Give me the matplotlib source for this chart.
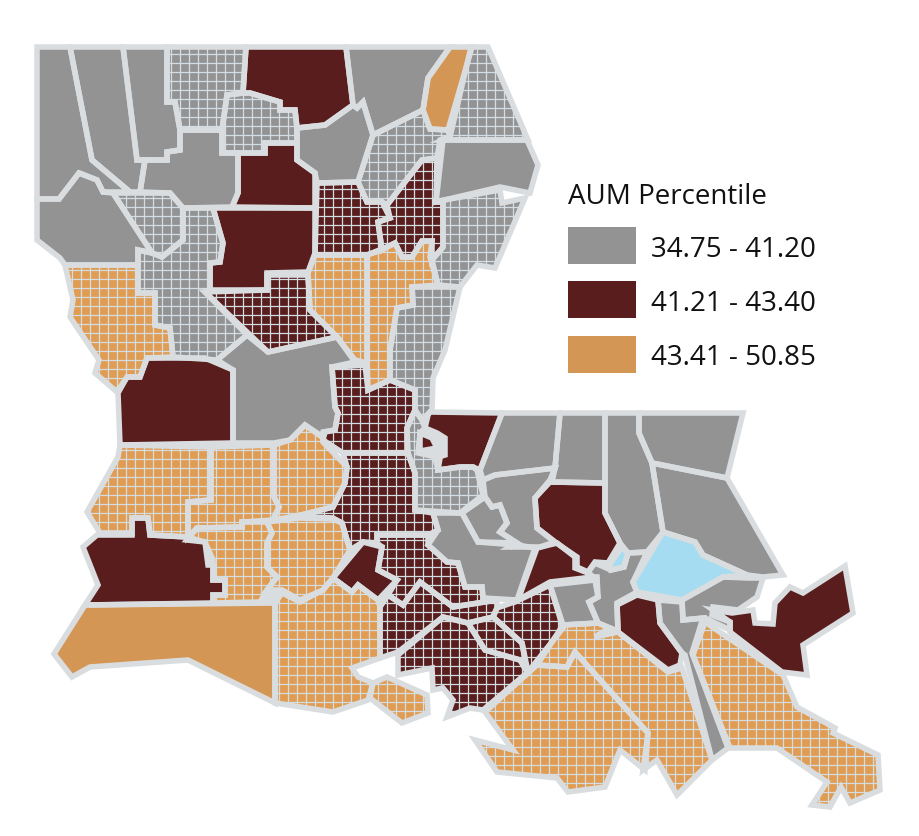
import numpy as np
import matplotlib
matplotlib.use('Agg')
import matplotlib.pyplot as plt
from matplotlib.patches import Polygon, Rectangle

# parish outlines (x, y in image pixels)
gray_plain = [
    [(37,47),(70,47),(92,160),(130,192),(103,192),(97,180),(79,173),(59,199),(37,199)],
    [(70,47),(123,47),(137,160),(145,160),(140,192),(130,192),(92,160)],
    [(123,47),(167,47),(167,102),(175,102),(180,130),(180,150),(167,152),(167,160),(137,160)],
    [(180,130),(222,130),(222,153),(238,153),(238,193),(232,207),(183,208),(170,193),(140,192),(145,160),(167,160),(167,152),(180,150)],
    [(37,199),(59,199),(79,173),(97,180),(103,192),(113,193),(152,253),(138,250),(138,265),(65,265),(60,258),(37,240)],
    [(247,335),(268,352),(337,337),(355,362),(332,367),(335,407),(338,413),(335,430),(323,432),(322,437),(305,425),(290,440),(274,443),(233,443),(233,370),(217,360)],
    [(346,47),(450,47),(428,78),(423,110),(373,135),(363,102),(357,108),(353,105)],
    [(297,128),(325,125),(353,105),(357,108),(363,102),(373,135),(358,182),(317,183),(315,173),(297,160)],
    [(443,140),(527,140),(538,165),(530,193),(500,187),(436,202)],
    [(502,413),(560,413),(555,468),(495,475),(483,480),(480,470)],
    [(560,413),(605,413),(605,483),(552,482),(555,468)],
    [(495,475),(555,468),(550,480),(535,498),(537,528),(555,542),(540,547),(510,547),(517,543),(500,532),(507,523),(500,505),(492,507),(485,497),(483,480)],
    [(485,497),(492,507),(500,505),(507,523),(500,532),(517,543),(478,542),(462,513)],
    [(433,513),(462,513),(478,542),(517,545),(535,548),(517,600),(483,598),(482,587),(465,587),(458,563),(447,562),(428,545),(438,530)],
    [(605,413),(639,413),(639,433),(652,463),(663,532),(647,552),(628,553),(620,543),(605,513)],
    [(639,413),(743,413),(727,478),(652,463),(639,433)],
    [(652,463),(727,478),(783,575),(763,577),(747,575),(703,555),(695,542),(663,532)],
    [(595,563),(611,570),(624,567),(628,553),(647,552),(633,582),(637,592),(617,603),(618,630),(595,637),(610,628),(598,623),(589,602),(598,597),(597,577),(593,577),(588,572)],
    [(550,585),(595,580),(598,597),(589,602),(598,623),(563,625)],
    [(658,600),(682,602),(683,620),(703,618),(692,653),(728,748),(712,760),(685,655),(682,653),(660,623)],
    [(682,600),(723,577),(748,578),(763,578),(757,597),(738,610),(713,607),(712,615),(730,622),(730,630),(705,618),(683,620)],
]
gray_hatched = [
    [(167,47),(246,47),(243,93),(227,95),(222,130),(180,130),(175,102),(167,102)],
    [(227,95),(243,93),(250,93),(280,102),(280,110),(295,110),(297,128),(297,143),(265,143),(265,153),(222,153),(222,130)],
    [(113,193),(170,193),(183,208),(183,240),(162,257),(152,253)],
    [(183,240),(162,257),(152,253),(138,250),(138,293),(155,293),(155,325),(170,328),(173,357),(217,360),(247,335),(205,292),(210,290),(210,263),(220,262),(223,243),(213,208),(183,208)],
    [(412,287),(460,287),(445,350),(433,378),(432,410),(422,420),(415,410),(415,390),(390,380),(390,350),(397,308),(413,305)],
    [(433,202),(443,202),(443,247),(432,260),(438,285),(460,287),(477,265),(495,268),(525,198),(502,203),(500,190)],
    [(471,47),(488,47),(528,140),(443,140),(450,137)],
    [(373,135),(423,110),(430,129),(448,130),(450,137),(440,140),(437,158),(422,160),(387,205),(382,202),(367,202),(358,182)],
    [(407,428),(415,410),(422,420),(425,428),(420,433),(418,453),(440,458),(438,470),(460,467),(473,467),(477,470),(483,495),(460,513),(415,510),(415,473),(407,450)],
]
maroon_plain = [
    [(246,47),(346,47),(353,105),(325,125),(297,128),(295,110),(280,110),(280,102),(250,93),(243,93)],
    [(238,153),(265,153),(265,143),(297,143),(297,160),(315,173),(315,208),(232,207),(238,193)],
    [(213,208),(315,208),(315,253),(308,272),(267,273),(267,290),(210,290),(210,263),(220,262),(223,243)],
    [(147,358),(205,358),(233,370),(233,443),(120,445),(118,393),(127,377),(140,377)],
    [(428,415),(430,412),(502,413),(480,470),(473,467),(460,467),(438,470),(435,458),(445,455),(445,438),(437,433),(425,428)],
    [(420,433),(432,438),(437,448),(420,451)],
    [(537,548),(557,543),(575,557),(575,568),(588,573),(593,577),(550,582),(518,600)],
    [(550,482),(605,483),(605,513),(620,543),(608,563),(595,562),(588,572),(577,567),(577,557),(555,542),(537,528),(535,498)],
    [(617,605),(637,595),(658,600),(660,623),(682,653),(680,665),(668,670),(618,632)],
    [(713,610),(732,613),(753,610),(755,623),(773,624),(775,603),(790,587),(803,593),(845,566),(853,613),(803,645),(807,675),(782,672),(730,632),(730,622)],
    [(333,578),(363,542),(382,547),(378,570),(397,580),(378,600),(358,585),(352,592)],
    [(83,547),(97,535),(132,535),(132,518),(148,518),(150,535),(187,537),(205,542),(208,565),(213,565),(213,580),(225,580),(225,595),(213,595),(213,603),(85,605),(98,585)],
]
maroon_hatched = [
    [(205,292),(267,290),(267,275),(308,275),(310,310),(337,337),(268,352)],
    [(335,367),(365,365),(368,390),(390,380),(415,390),(415,410),(407,428),(408,453),(343,453),(323,440),(325,432),(335,430),(338,413),(335,407),(332,367)],
    [(343,453),(408,453),(415,473),(415,510),(433,513),(438,530),(428,535),(377,535),(377,543),(363,542),(350,550),(342,523),(333,518),(297,516),(333,507),(345,483),(347,467)],
    [(317,183),(358,182),(367,202),(382,202),(390,218),(378,222),(382,250),(367,255),(315,255)],
    [(422,160),(437,158),(436,202),(443,202),(443,247),(432,260),(432,241),(422,241),(412,257),(402,257),(395,243),(387,247),(382,250),(378,222),(390,218),(387,205)],
    [(468,623),(493,617),(522,643),(527,672),(520,660),(485,650)],
    [(497,608),(517,601),(550,585),(563,628),(528,672),(522,643),(493,617)],
    [(443,617),(468,623),(485,650),(520,660),(528,672),(483,710),(470,708),(447,717),(453,700),(443,688),(433,690),(432,668),(398,675),(398,655)],
    [(380,607),(388,595),(403,605),(420,582),(453,607),(497,600),(497,608),(493,617),(468,623),(443,617),(398,652),(380,658)],
    [(377,535),(428,535),(428,545),(447,562),(458,563),(465,587),(482,587),(483,598),(497,600),(453,607),(420,582),(403,605),(388,595),(397,580),(378,570),(382,547),(377,543)],
]
tan_plain = [
    [(450,47),(472,47),(448,130),(430,129),(423,110),(428,78)],
    [(85,605),(275,603),(275,703),(188,660),(90,667),(72,677),(54,654)],
]
tan_hatched = [
    [(65,265),(138,265),(138,293),(155,293),(155,325),(170,328),(173,357),(147,358),(140,377),(127,377),(117,392),(95,373),(99,360),(70,317),(73,300)],
    [(120,445),(211,447),(211,500),(188,502),(188,537),(150,535),(148,518),(132,518),(132,533),(100,533),(87,512),(118,457)],
    [(211,447),(274,445),(274,497),(279,507),(273,520),(242,522),(242,527),(197,528),(188,537),(188,502),(211,500)],
    [(274,445),(290,440),(305,425),(323,437),(323,442),(347,467),(345,483),(333,507),(297,516),(273,520),(279,507),(274,497)],
    [(315,255),(367,255),(367,363),(355,360),(337,337),(310,310),(308,273)],
    [(367,255),(387,247),(395,243),(402,257),(412,257),(422,241),(432,241),(430,257),(438,285),(412,287),(413,305),(397,308),(390,350),(390,380),(368,390),(367,363)],
    [(705,622),(783,675),(797,707),(835,728),(833,733),(878,755),(880,790),(850,803),(841,787),(830,807),(812,805),(827,782),(777,748),(730,748),(693,655)],
    [(563,625),(598,623),(610,628),(595,637),(618,632),(668,672),(682,668),(712,760),(677,795),(657,760),(643,770),(648,733),(575,652),(567,667),(537,665)],
    [(537,665),(567,667),(575,652),(648,733),(645,770),(620,750),(605,787),(568,792),(557,778),(497,772),(475,740),(513,750),(485,712)],
    [(267,522),(300,518),(333,519),(342,523),(350,550),(333,578),(323,590),(300,600),(282,590),(267,590),(277,577),(267,567),(267,543),(272,533)],
    [(197,528),(242,527),(242,522),(267,522),(272,533),(267,543),(267,567),(277,577),(267,590),(260,602),(213,603),(213,595),(225,595),(225,580),(213,580),(213,560),(205,542),(187,540)],
    [(275,603),(282,593),(300,602),(323,590),(333,578),(352,592),(358,585),(378,600),(380,607),(380,658),(352,668),(358,677),(373,683),(368,700),(333,712),(275,703)],
    [(387,677),(427,695),(428,713),(402,723),(370,698),(373,683)],
]
water = [
    [(663,532),(695,542),(703,555),(747,575),(723,577),(682,600),(637,592),(633,582)],
    [(610,564),(622,547),(628,553),(624,567),(611,570)],
]
# slivers where neighbouring outlines do not quite meet, border colour only
slivers = [
    [(420,433),(425,428),(437,433),(445,438),(445,455),(440,458),(418,453)],
    [(267,590),(282,590),(282,593),(275,603),(260,602)],
    [(205,358),(217,360),(233,370)],
    [(705,622),(730,632),(730,630),(705,618)],
]

legend_title = 'AUM Percentile'
legend_labels = ['34.75 - 41.20', '41.21 - 43.40', '43.41 - 50.85']

GRAY = '#939393'
MAROON = '#581d1c'
TAN = '#d49655'
TAN_HATCH = '#df9c52'
WATER = '#a6dcf1'
BORDER = '#dadddf'
GRID = '#d3dde3'
GRID_STEP = 9

groups = [
    (gray_plain, GRAY, False),
    (gray_hatched, GRAY, True),
    (maroon_plain, MAROON, False),
    (maroon_hatched, MAROON, True),
    (tan_plain, TAN, False),
    (tan_hatched, TAN_HATCH, True),
    (water, WATER, False),
]

fig = plt.figure(figsize=(9.19, 8.36), dpi=100)
ax = fig.add_axes([0, 0, 1, 1])
ax.set_xlim(0, 919)
ax.set_ylim(836, 0)
ax.axis('off')

for verts in slivers:
    ax.add_patch(Polygon(verts, closed=True, facecolor=BORDER, edgecolor='none', zorder=0))

for polys, colour, hatched in groups:
    for verts in polys:
        patch = Polygon(verts, closed=True, facecolor=colour, edgecolor='none', zorder=1)
        ax.add_patch(patch)
        if hatched:
            xs = [p[0] for p in verts]
            ys = [p[1] for p in verts]
            grid_x = np.arange(min(xs) // GRID_STEP * GRID_STEP, max(xs) + 1, GRID_STEP)
            grid_y = np.arange(min(ys) // GRID_STEP * GRID_STEP, max(ys) + 1, GRID_STEP)
            v = ax.vlines(grid_x, min(ys), max(ys), color=GRID, lw=0.9, zorder=2)
            h = ax.hlines(grid_y, min(xs), max(xs), color=GRID, lw=0.9, zorder=2)
            v.set_clip_path(patch)
            h.set_clip_path(patch)

# parish borders go over all the fills
for polys, colour, hatched in groups:
    for verts in polys:
        ax.add_patch(Polygon(verts, closed=True, facecolor='none', edgecolor=BORDER,
                             lw=4, joinstyle='miter', zorder=3))

# legend
font = 'Open Sans'
ax.text(568, 197, legend_title, fontsize=20, family=font, color='#111111', va='center', ha='left')
swatch_tops = [227, 281, 336]
swatch_colours = [GRAY, MAROON, TAN]
label_y = [250, 304, 358]
for top, colour, label, ly in zip(swatch_tops, swatch_colours, legend_labels, label_y):
    ax.add_patch(Rectangle((568, top), 68, 37, facecolor=colour, edgecolor='none', zorder=4))
    ax.text(651, ly, label, fontsize=20, family=font, color='#111111', va='center', ha='left')

fig.savefig('out.png', dpi=100)
